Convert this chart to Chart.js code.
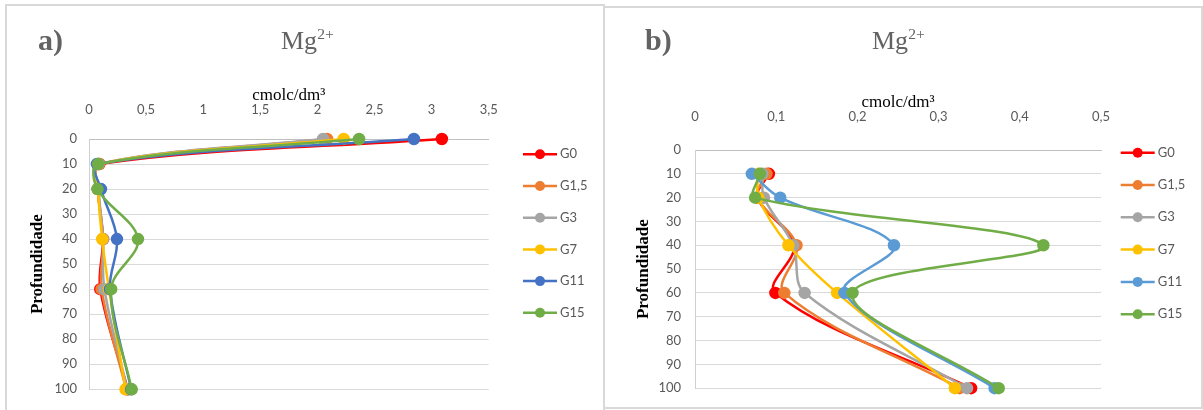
<!DOCTYPE html>
<html>
<head>
<meta charset="utf-8">
<title>Mg2+</title>
<script src="https://cdn.jsdelivr.net/npm/chart.js@4.4.1/dist/chart.umd.min.js"></script>
<style>
    body { margin: 0; background: #fff; width: 1203px; height: 410px; overflow: hidden; position: relative; }
    .panel { position: absolute; box-sizing: border-box; border: 2px solid #d9d9d9; }
    #panel-a { left: 5px; top: 4px; width: 600px; height: 430px; }
    #panel-b { left: 603px; top: 6px; width: 600px; height: 403px; }
    .lbl { position: absolute; font-family: "Liberation Serif", serif; color: #636363; line-height: 1; white-space: nowrap; }
    .lbl.tag { font-size: 30px; font-weight: bold; top: 25px; }
    .lbl.ion { font-size: 26px; top: 28px; }
    .lbl sup { font-size: 60%; vertical-align: 0.65em; line-height: 0; }
    canvas { position: absolute; top: 0; }
    #chartA { left: 0; }
    #chartB { left: 600px; }
</style>
</head>
<body>
<div class="panel" id="panel-a"></div>
<div class="panel" id="panel-b"></div>
<canvas id="chartA" width="600" height="410"></canvas>
<canvas id="chartB" width="603" height="410"></canvas>
<div class="lbl tag" style="left:38px">a)</div>
<div class="lbl ion" style="left:281px">Mg<sup>2+</sup></div>
<div class="lbl tag" style="left:645px">b)</div>
<div class="lbl ion" style="left:872px">Mg<sup>2+</sup></div>
<script>
// Depths (cm) and Mg2+ values (cmolc/dm3) per treatment
const depths = [0, 10, 20, 40, 60, 100];
const seriesNames = ['G0', 'G1,5', 'G3', 'G7', 'G11', 'G15'];
const g0   = [3.09,  0.091, 0.077, 0.122, 0.099, 0.340];
const g1_5 = [2.085, 0.088, 0.077, 0.125, 0.110, 0.326];
const g3   = [2.05,  0.083, 0.085, 0.121, 0.135, 0.335];
const g7   = [2.23,  0.078, 0.078, 0.115, 0.175, 0.320];
const g11  = [2.845, 0.070, 0.105, 0.245, 0.184, 0.369];
const g15  = [2.365, 0.080, 0.074, 0.429, 0.194, 0.374];
const seriesValues = [g0, g1_5, g3, g7, g11, g15];

const colorsA = ['#ff0000', '#ed7d31', '#a5a5a5', '#ffc000', '#4472c4', '#70ad47'];
const colorsB = ['#ff0000', '#ed7d31', '#a5a5a5', '#ffc000', '#5b9bd5', '#70ad47'];

const tickFont = { family: 'Lato', size: 13 };
const commaFmt = v => String(Number(v.toFixed(2))).replace('.', ',');

// legend drawn at the right: short line with a dot, then the name
const sideLegend = {
    id: 'sideLegend',
    afterDraw(chart, args, opts) {
        const ctx = chart.ctx;
        ctx.save();
        chart.data.datasets.forEach((ds, i) => {
            const y = opts.y + i * opts.gap;
            ctx.strokeStyle = ds.borderColor;
            ctx.lineWidth = 2.5;
            ctx.beginPath();
            ctx.moveTo(opts.x, y);
            ctx.lineTo(opts.x + 34, y);
            ctx.stroke();
            ctx.fillStyle = ds.borderColor;
            ctx.beginPath();
            ctx.arc(opts.x + 17, y, 5, 0, Math.PI * 2);
            ctx.fill();
            ctx.fillStyle = '#595959';
            ctx.font = '13px Lato';
            ctx.textBaseline = 'middle';
            ctx.fillText(ds.label, opts.x + 37, y);
        });
        ctx.restore();
    }
};

const makeChart = (id, cfg) => {
    const datasets = seriesNames.map((name, i) => ({
        label: name,
        data: depths.slice(cfg.from).map((d, j) => ({ x: seriesValues[i][j + cfg.from], y: d })),
        borderColor: cfg.colors[i],
        backgroundColor: cfg.colors[i],
        showLine: true,
        borderWidth: 2.5,
        tension: 0.35,
        pointRadius: 5,
        pointHoverRadius: 5,
        clip: false,
        order: seriesNames.length - i
    }));

    return new Chart(document.getElementById(id), {
        type: 'scatter',
        data: { datasets },
        plugins: [sideLegend],
        options: {
            responsive: false,
            animation: false,
            events: [],
            layout: { padding: { left: 0, top: 0, right: cfg.padRight, bottom: cfg.padBottom } },
            plugins: {
                legend: { display: false },
                tooltip: { enabled: false },
                sideLegend: cfg.legend
            },
            scales: {
                x: {
                    type: 'linear',
                    position: 'top',
                    min: 0,
                    max: cfg.xMax,
                    afterFit: s => { s.height = cfg.top; },
                    ticks: { stepSize: cfg.xStep, font: tickFont, color: '#595959', padding: cfg.xTickPad, callback: commaFmt },
                    grid: { display: false },
                    border: { display: true, color: '#bfbfbf', width: 1 },
                    title: {
                        display: true,
                        text: 'cmolc/dm³',
                        color: '#000',
                        font: { family: "'Liberation Serif'", size: 17 },
                        padding: { top: cfg.xTitleY - 10.2, bottom: 0 }
                    }
                },
                y: {
                    type: 'linear',
                    reverse: true,
                    min: 0,
                    max: 100,
                    afterFit: s => { s.width = cfg.left; },
                    ticks: { stepSize: 10, font: tickFont, color: '#595959', padding: cfg.yTickPad },
                    grid: { color: '#d9d9d9', lineWidth: 1, drawTicks: false },
                    border: { display: true, color: '#d0d0d0', width: 1 },
                    title: {
                        display: true,
                        text: 'Profundidade',
                        color: '#000',
                        font: { family: "'Liberation Serif'", size: 17, weight: 'bold' },
                        padding: { top: cfg.yTitleX - 10.2, bottom: 0 }
                    }
                }
            }
        }
    });
};

makeChart('chartA', {
    from: 0, colors: colorsA, xMax: 3.5, xStep: 0.5,
    left: 89, top: 139, padRight: 111.3, padBottom: 20.7,
    xTickPad: 13, yTickPad: 12, xTitleY: 96, yTitleX: 38,
    legend: { x: 523, y: 154.3, gap: 31.7 }
});

makeChart('chartB', {
    from: 1, colors: colorsB, xMax: 0.5, xStep: 0.1,
    left: 95, top: 150, padRight: 102, padBottom: 12.3,
    xTickPad: 17, yTickPad: 14, xTitleY: 103, yTitleX: 43.5,
    legend: { x: 520.7, y: 152.7, gap: 32.3 }
});
</script>
</body>
</html>
